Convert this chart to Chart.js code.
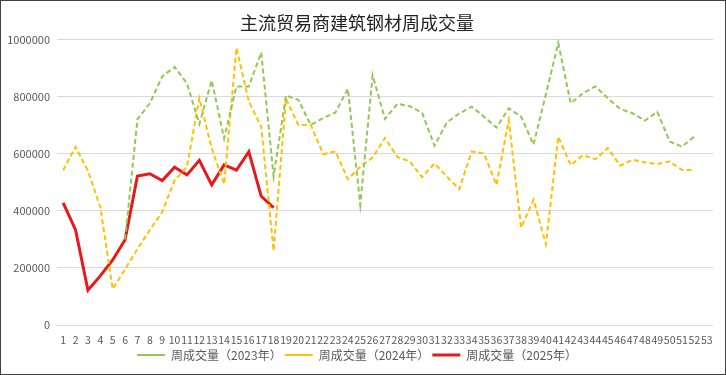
<!DOCTYPE html>
<html>
<head>
<meta charset="utf-8">
<script src="https://cdn.jsdelivr.net/npm/chart.js@4/dist/chart.umd.min.js"></script>
<style>
  html, body { margin: 0; padding: 0; background: #fff; }
  #wrap { width: 724px; height: 373px; border: 1px solid #404040; }
</style>
</head>
<body>
<div id="wrap"><canvas id="grafico" width="724" height="373"></canvas></div>
<script>
// semanas 1..53
const semanas = [];
for (let i = 1; i <= 53; i++) semanas.push(String(i));

const yTicks = [0, 200000, 400000, 600000, 800000, 1000000];

const vol2023 = [null, null, null, null, null, 300000, 721000, 777000, 871000, 904000,
  847000, 704000, 857000, 654000, 836000, 836000, 955000, 521000, 804000, 789000,
  701000, 725000, 745000, 828000, 421000, 875000, 722000, 775000, 767000, 743000,
  628000, 710000, 741000, 765000, 730000, 692000, 759000, 730000, 632000, 809000,
  988000, 777000, 812000, 836000, 795000, 757000, 742000, 716000, 747000, 643000,
  625000, 661000, null];

const vol2024 = [542000, 624000, 540000, 413000, 126000, 196000, 266000, 333000, 396000, 507000,
  554000, 795000, 619000, 493000, 971000, 783000, 695000, 260000, 793000, 701000,
  701000, 599000, 608000, 511000, 554000, 587000, 655000, 589000, 573000, 518000,
  566000, 520000, 476000, 608000, 601000, 491000, 718000, 341000, 439000, 283000,
  660000, 560000, 595000, 581000, 620000, 558000, 579000, 570000, 564000, 573000,
  543000, 543000, null];

const vol2025 = [428000, 333000, 122000, 172000, 228000, 299000, 522000, 530000, 506000, 553000,
  526000, 577000, 491000, 561000, 543000, 607000, 451000, 411000];

const fonte = '"Noto Sans CJK SC", "Noto Sans", sans-serif';

const ctx = document.getElementById('grafico');

new Chart(ctx, {
  type: 'line',
  data: {
    labels: semanas,
    datasets: [
      {
        label: '周成交量（2023年）',
        data: vol2023,
        borderColor: '#92C755',
        backgroundColor: '#92C755',
        borderWidth: 2,
        borderDash: [5, 3],
        pointRadius: 0,
        tension: 0
      },
      {
        label: '周成交量（2024年）',
        data: vol2024,
        borderColor: '#FFC000',
        backgroundColor: '#FFC000',
        borderWidth: 2,
        borderDash: [5, 3],
        pointRadius: 0,
        tension: 0
      },
      {
        label: '周成交量（2025年）',
        data: vol2025,
        borderColor: '#E8191B',
        backgroundColor: '#E8191B',
        borderWidth: 3,
        pointRadius: 0,
        tension: 0
      }
    ]
  },
  options: {
    responsive: false,
    animation: false,
    layout: { padding: { left: 0, right: 12, top: 3, bottom: 3 } },
    plugins: {
      title: {
        display: true,
        text: '主流贸易商建筑钢材周成交量',
        color: '#222',
        font: { family: fonte, size: 18, weight: 'normal' },
        padding: { top: 8, bottom: 6 }
      },
      legend: {
        position: 'bottom',
        labels: {
          usePointStyle: true,
          pointStyle: 'line',
          pointStyleWidth: 28,
          boxHeight: 12,
          color: '#595959',
          font: { family: fonte, size: 12 },
          padding: 3
        }
      },
      tooltip: { enabled: false }
    },
    scales: {
      x: {
        offset: true,
        afterFit: (s) => { s.height = 21; },
        grid: { display: false, drawTicks: false },
        border: { display: false },
        ticks: {
          autoSkip: false,
          maxRotation: 0,
          color: '#595959',
          padding: 9,
          font: { family: fonte, size: 10.5 }
        }
      },
      y: {
        min: 0,
        max: 1000000,
        afterBuildTicks: (s) => { s.ticks = yTicks.map(v => ({ value: v })); },
        afterFit: (s) => { s.width = 56; },
        grid: { color: '#D9D9D9', drawTicks: false },
        border: { display: false },
        ticks: {
          color: '#595959',
          padding: 7,
          font: { family: fonte, size: 11 },
          callback: (v) => String(v)
        }
      }
    }
  }
});
</script>
</body>
</html>
